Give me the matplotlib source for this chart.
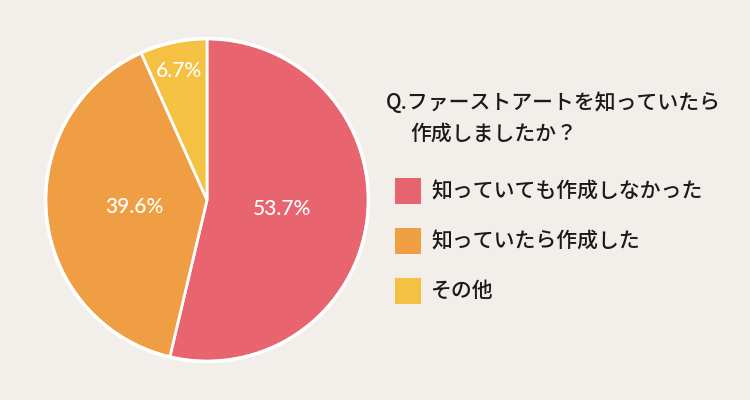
import matplotlib
matplotlib.use("Agg")
import matplotlib.pyplot as plt
import numpy as np
from matplotlib.patches import Rectangle

labels = ["知っていても作成しなかった", "知っていたら作成した", "その他"]
values = [53.7, 39.6, 6.7]
colors = ["#E8656F", "#F09E43", "#F4C143"]
title_lines = ["Q.ファーストアートを知っていたら", "作成しましたか？"]
label_radius = [0.47, 0.45, 0.82]

bg = "#F2EEEA"
plt.rcParams['font.family'] = ['Noto Sans CJK JP', 'DejaVu Sans']

fig = plt.figure(figsize=(7.5, 4.0), dpi=100, facecolor=bg)
W, H = 750, 400
cx, cy, r = 207, 200, 163
ax = fig.add_axes([(cx - r) / W, (H - cy - r) / H, 2 * r / W, 2 * r / H])
ax.set_facecolor(bg)
wedges, _ = ax.pie(values, colors=colors, startangle=90, counterclock=False,
                   wedgeprops=dict(edgecolor="white", linewidth=2))
ax.add_patch(plt.Circle((0, 0), 1.0, fill=False, edgecolor="white", linewidth=2.5))
for w, v, lr in zip(wedges, values, label_radius):
    ang = np.deg2rad((w.theta1 + w.theta2) / 2)
    ax.text(lr * np.cos(ang), lr * np.sin(ang), f"{v}%", ha="center", va="center",
            color="white", fontsize=15, fontweight="medium", family=['Lato', 'DejaVu Sans'])
ax.set_xlim(-1.01, 1.01)
ax.set_ylim(-1.01, 1.01)
ax.set_aspect("equal")
ax.axis("off")

tkw = dict(fontsize=15, fontweight="medium", va="center", ha="left", color="#1a1a1a")
fig.text(386 / W, 1 - 103 / H, title_lines[0], **tkw)
fig.text(410 / W, 1 - 134 / H, title_lines[1], **tkw)

ys = [191, 241, 291]
for lab, c, y in zip(labels, colors, ys):
    fig.patches.append(Rectangle((395 / W, 1 - (y + 13) / H), 26 / W, 26 / H,
                                 transform=fig.transFigure, facecolor=c, edgecolor="none"))
    fig.text(431 / W, 1 - y / H, lab, **tkw)

fig.savefig("out.png", dpi=100, facecolor=bg)
